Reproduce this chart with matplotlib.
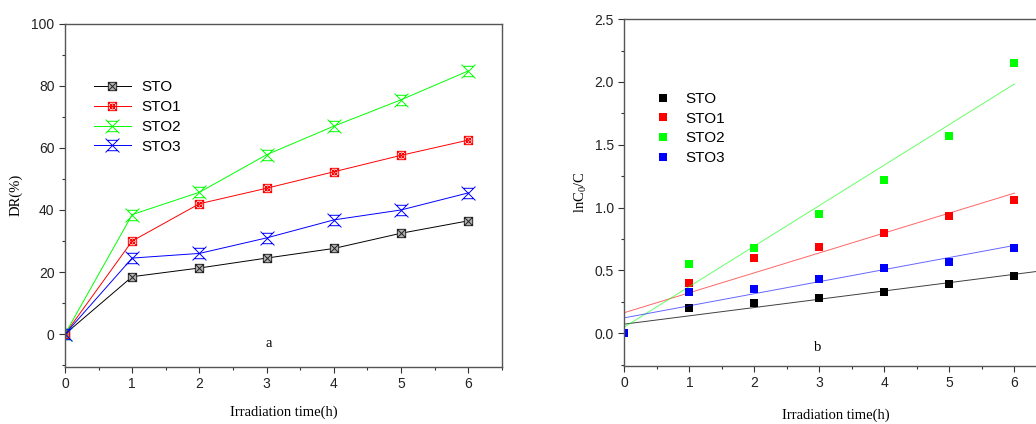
import numpy as np
import matplotlib
matplotlib.use('Agg')
import matplotlib.pyplot as plt
from matplotlib.path import Path
from matplotlib.ticker import MultipleLocator

plt.rcParams['font.family'] = ['Liberation Sans', 'DejaVu Sans']
plt.rcParams['mathtext.fontset'] = 'custom'
plt.rcParams['mathtext.rm'] = 'Liberation Serif'
plt.rcParams['mathtext.it'] = 'Liberation Serif:italic'

# data
hours = [0, 1, 2, 3, 4, 5, 6]
names = ['STO', 'STO1', 'STO2', 'STO3']
colors = ['#000000', '#ff0000', '#00ff00', '#0000ff']

dr_sto = [0, 18.5, 21.3, 24.5, 27.6, 32.5, 36.5]
dr_sto1 = [0, 30.0, 42.0, 47.0, 52.3, 57.6, 62.5]
dr_sto2 = [0, 38.5, 45.7, 57.8, 67.0, 75.5, 84.8]
dr_sto3 = [0, 24.5, 26.0, 31.0, 36.8, 40.0, 45.5]

ln_sto = [0, 0.20, 0.24, 0.28, 0.33, 0.39, 0.46]
ln_sto1 = [0, 0.40, 0.60, 0.69, 0.80, 0.93, 1.06]
ln_sto2 = [0, 0.55, 0.68, 0.95, 1.22, 1.57, 2.15]
ln_sto3 = [0, 0.33, 0.35, 0.43, 0.52, 0.57, 0.68]

dr_all = [dr_sto, dr_sto1, dr_sto2, dr_sto3]
ln_all = [ln_sto, ln_sto1, ln_sto2, ln_sto3]

# origin-like symbols
M, L, C = Path.MOVETO, Path.LINETO, Path.CLOSEPOLY
square = Path([(-1, -1), (1, -1), (1, 1), (-1, 1), (-1, -1)], [M, L, L, L, C])
cross = Path([(-1, -1), (1, 1), (-1, 1), (1, -1)], [M, L, M, L])
circ = Path(Path.unit_circle().vertices * 0.6, Path.unit_circle().codes)
bars = Path([(-0.7, 0.75), (0.7, 0.75), (-0.7, -0.75), (0.7, -0.75)], [M, L, M, L])
sq_x = Path.make_compound_path(square, cross)
sq_ox = Path.make_compound_path(square, circ, cross)
hg = Path.make_compound_path(cross, bars)

styles = [
    dict(marker=sq_x, markersize=6, markerfacecolor='#b0b0b0', markeredgecolor='#222222'),
    dict(marker=sq_ox, markersize=6, markerfacecolor='none', markeredgecolor='#ff0000'),
    dict(marker=hg, markersize=10, markerfacecolor='none', markeredgecolor='#00ff00'),
    dict(marker=hg, markersize=10, markerfacecolor='none', markeredgecolor='#0000ff'),
]

fig = plt.figure(figsize=(10.36, 4.24), dpi=100)
ax1 = fig.add_axes([0.0627, 0.1351, 0.4218, 0.809])
ax2 = fig.add_axes([0.6026, 0.1368, 0.408, 0.818])

serif = {'family': 'Liberation Serif', 'size': 10.5}

# panel a
for name, c, y, st in zip(names, colors, dr_all, styles):
    ax1.plot(hours, y, color=c, lw=0.7, label=name, markeredgewidth=0.7, **st)
ax1.set_xlim(0, 6.5)
ax1.set_ylim(-10.5, 100)
ax1.xaxis.set_major_locator(MultipleLocator(1))
ax1.xaxis.set_minor_locator(MultipleLocator(0.5))
ax1.yaxis.set_major_locator(MultipleLocator(20))
ax1.yaxis.set_minor_locator(MultipleLocator(10))
ax1.set_xlabel('Irradiation time(h)', fontdict=serif, labelpad=10)
ax1.set_ylabel('DR(%)', fontdict=serif, labelpad=6)
ax1.text(3.03, -2.9, 'a', fontdict=serif, ha='center', va='center')
ax1.legend(loc='upper left', bbox_to_anchor=(0.035, 0.875), frameon=False,
           fontsize=11, handlelength=2.4, handletextpad=0.7, labelspacing=0.38)

# panel b
for i, (name, c, y) in enumerate(zip(names, colors, ln_all)):
    ax2.plot(hours, y, 's', color=c, markersize=6, markeredgewidth=0, label=name)
    k, b = np.polyfit(hours, y, 1)
    xs = np.linspace(0, 6.5 if i == 0 else 6, 50)
    ax2.plot(xs, k * xs + b, color=c, lw=0.7, alpha=0.75 if i == 0 else 0.6)
ax2.set_xlim(0, 6.5)
ax2.set_ylim(-0.26, 2.5)
ax2.xaxis.set_major_locator(MultipleLocator(1))
ax2.xaxis.set_minor_locator(MultipleLocator(0.5))
ax2.yaxis.set_major_locator(MultipleLocator(0.5))
ax2.yaxis.set_minor_locator(MultipleLocator(0.25))
ax2.yaxis.set_major_formatter(matplotlib.ticker.FormatStrFormatter('%.1f'))
ax2.set_xlabel('Irradiation time(h)', fontdict=serif, labelpad=13)
ax2.set_ylabel(r'lnC$_0$/C', fontdict=serif, labelpad=4)
ax2.text(2.97, -0.11, 'b', fontdict=serif, ha='center', va='center')
h, l = ax2.get_legend_handles_labels()
ax2.legend(h[:4], l[:4], loc='upper left', bbox_to_anchor=(0.04, 0.83), frameon=False,
           fontsize=11, handlelength=1.0, handletextpad=1.0, labelspacing=0.38)

for ax in (ax1, ax2):
    for s in ax.spines.values():
        s.set_color('#555555')
        s.set_linewidth(1.0)
    ax.tick_params(which='major', direction='out', length=4, width=0.8,
                   colors='#333333', labelsize=10, top=False, right=False, labelcolor='#222222')
    ax.tick_params(which='minor', direction='out', length=2.5, width=0.8,
                   colors='#333333', top=False, right=False)

fig.savefig('out.png', dpi=100)
